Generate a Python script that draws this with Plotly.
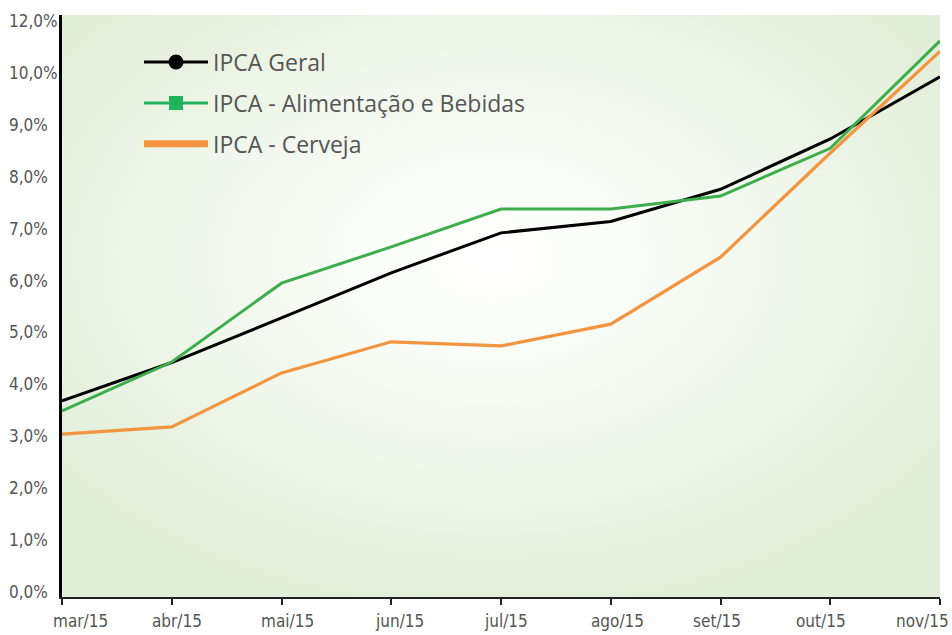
import base64
import plotly.graph_objects as go

months = ["mar/15", "abr/15", "mai/15", "jun/15", "jul/15", "ago/15", "set/15", "out/15", "nov/15"]
ipca_geral = [3.68, 4.42, 5.28, 6.15, 6.92, 7.14, 7.76, 8.73, 9.93]
ipca_alim = [3.49, 4.43, 5.95, 6.65, 7.38, 7.38, 7.63, 8.55, 10.62]
ipca_cerveja = [3.04, 3.18, 4.22, 4.82, 4.74, 5.16, 6.45, 8.46, 10.42]

y_tickvals = [0, 1, 2, 3, 4, 5, 6, 7, 8, 9, 10, 11]
y_ticktext = ["0,0%", "1,0%", "2,0%", "3,0%", "4,0%", "5,0%", "6,0%", "7,0%", "8,0%", "9,0%", "10,0%", "12,0%"]

names = ["IPCA Geral", "IPCA - Alimentação e Bebidas", "IPCA - Cerveja"]
c_black = "#000000"
c_green = "#3DAE4B"
c_green_mk = "#22B35E"
c_orange = "#F39440"

# horizontal nudges of the month labels (pixels), as laid out in the original
label_shift = [18, 5, 6, 8, 5, 7, -4, -9, -18]

svg = """<svg xmlns='http://www.w3.org/2000/svg' width='878' height='582' viewBox='0 0 878 582' preserveAspectRatio='none'>
<defs><radialGradient id='g' cx='0.49' cy='0.42' r='0.62' fx='0.49' fy='0.42'>
<stop offset='0' stop-color='#ffffff'/>
<stop offset='0.35' stop-color='#f7fbf4'/>
<stop offset='1' stop-color='#e1eed9'/>
</radialGradient></defs>
<rect x='0' y='0' width='878' height='582' fill='url(#g)'/>
</svg>"""
bg_uri = "data:image/svg+xml;base64," + base64.b64encode(svg.encode()).decode()

tick_font = dict(family="DejaVu Sans Condensed, Liberation Sans Narrow, DejaVu Sans", size=17, color="#555555")

W, H = 952, 635
ML, MR, MT, MB = 0, 12, 15, 38
PLOT_LEFT = 62
paper_w = W - ML - MR

fig = go.Figure()
x_idx = list(range(len(months)))

fig.add_trace(go.Scatter(x=x_idx, y=ipca_geral, mode="lines", line=dict(color=c_black, width=3),
                         showlegend=False, hoverinfo="skip"))
fig.add_trace(go.Scatter(x=x_idx, y=ipca_alim, mode="lines", line=dict(color=c_green, width=3),
                         showlegend=False, hoverinfo="skip"))
fig.add_trace(go.Scatter(x=x_idx, y=ipca_cerveja, mode="lines", line=dict(color=c_orange, width=3.2),
                         showlegend=False, hoverinfo="skip"))

# legend entries
fig.add_trace(go.Scatter(x=[None], y=[None], mode="lines+markers", name=names[0], legendgroup="a",
                         line=dict(color=c_black, width=3), marker=dict(symbol="circle", size=15, color=c_black)))
fig.add_trace(go.Scatter(x=[None], y=[None], mode="lines+markers", name=names[1], legendgroup="b",
                         line=dict(color=c_green_mk, width=3), marker=dict(symbol="square", size=14, color=c_green_mk)))
fig.add_trace(go.Scatter(x=[None], y=[None], mode="lines", name=names[2], legendgroup="c",
                         line=dict(color=c_orange, width=7)))

annotations = []
for i, m in enumerate(months):
    annotations.append(dict(x=i, y=0, xref="x", yref="paper", text=m, showarrow=False,
                            xanchor="center", yanchor="top", xshift=label_shift[i], yshift=-12,
                            font=tick_font))

yrange = [-0.1, 11.12]

fig.update_layout(
    width=W, height=H,
    margin=dict(l=ML, r=MR, t=MT, b=MB, pad=0, autoexpand=False),
    paper_bgcolor="white",
    plot_bgcolor="#e8f2e2",
    images=[dict(source=bg_uri, xref="x domain", yref="y domain", x=0, y=1, sizex=1, sizey=1,
                 sizing="stretch", xanchor="left", yanchor="top", layer="below")],
    annotations=annotations,
    showlegend=True,
    legend=dict(x=139 / paper_w, y=0.956, xanchor="left", yanchor="top", bgcolor="rgba(0,0,0,0)",
                font=dict(family="Open Sans", size=23, color="#555555"),
                itemwidth=64, tracegroupgap=8, traceorder="grouped"),
    xaxis=dict(domain=[PLOT_LEFT / paper_w, 1], range=[0, len(months) - 1], tickvals=x_idx,
               showticklabels=False, automargin=False,
               showgrid=False, zeroline=False, showline=True, linecolor="#222222", linewidth=2,
               ticks="outside", ticklen=6, tickwidth=1.5, tickcolor="#222222"),
    yaxis=dict(range=yrange, tickvals=y_tickvals, showticklabels=False, automargin=False,
               showgrid=False, zeroline=False, showline=True, linecolor="#000000", linewidth=3,
               ticks=""),
    yaxis2=dict(range=yrange, overlaying="y", anchor="free", side="right", position=8 / paper_w,
                tickmode="array", tickvals=y_tickvals, ticktext=y_ticktext, automargin=False,
                showgrid=False, zeroline=False, showline=False, ticks="",
                tickfont=tick_font),
)

# an invisible trace so the label axis is drawn
fig.add_trace(go.Scatter(x=[None], y=[None], yaxis="y2", showlegend=False, hoverinfo="skip"))

fig.write_html("out.html", config={"displayModeBar": False},
               post_script="document.body.style.margin='0';")
